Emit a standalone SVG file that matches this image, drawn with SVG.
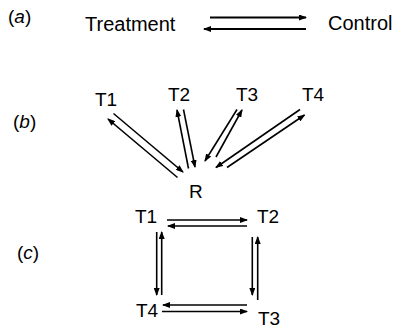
<svg xmlns="http://www.w3.org/2000/svg" width="396" height="329" viewBox="0 0 396 329">
  <defs>
    <marker id="ah" markerWidth="8" markerHeight="6" refX="7" refY="3" orient="auto" markerUnits="userSpaceOnUse">
      <path d="M0,0 L8,3 L0,6 Z" fill="#000"/>
    </marker>
    <style>
      text { font-family: "Liberation Sans", Arial, sans-serif; fill: #000; }
      .lbl { font-size: 19px; }
      .big { font-size: 20px; }
      .tag { font-size: 19px; }
      .tag tspan.it { font-style: italic; }
      .arr { stroke: #000; fill: none; marker-end: url(#ah); }
      .thick { stroke-width: 2; }
      .thin { stroke-width: 1.6; }
    </style>
  </defs>
  <rect width="396" height="329" fill="#fff"/>

  <!-- panel tags -->
  <g id="tags">
    <text class="tag" x="8" y="23">(<tspan class="it">a</tspan>)</text>
    <text class="tag" x="13" y="128">(<tspan class="it">b</tspan>)</text>
    <text class="tag" x="17" y="259">(<tspan class="it">c</tspan>)</text>
  </g>

  <!-- panel a nodes -->
  <g id="treatment"><text class="big" x="85" y="30.5">Treatment</text></g>
  <g id="control"><text class="big" x="328" y="29.5">Control</text></g>

  <!-- panel b nodes -->
  <g id="b-T1"><text class="lbl" x="95" y="105.5">T1</text></g>
  <g id="b-T2"><text class="lbl" x="168" y="101">T2</text></g>
  <g id="b-T3"><text class="lbl" x="236" y="101">T3</text></g>
  <g id="b-T4"><text class="lbl" x="302" y="101">T4</text></g>
  <g id="b-R"><text class="lbl" x="189" y="197.5">R</text></g>

  <!-- panel c nodes -->
  <g id="c-T1"><text class="lbl" x="135" y="223">T1</text></g>
  <g id="c-T2"><text class="lbl" x="257" y="223">T2</text></g>
  <g id="c-T3"><text class="lbl" x="258" y="325">T3</text></g>
  <g id="c-T4"><text class="lbl" x="136" y="316.5">T4</text></g>

  <g id="connectors">
    <!-- a -->
    <line class="arr thick" x1="210" y1="17.5" x2="306" y2="17.5"/>
    <line class="arr thick" x1="306" y1="29" x2="204" y2="29"/>

    <!-- b -->
    <line class="arr thin" x1="113.5" y1="113.5" x2="183" y2="172"/>
    <line class="arr thin" x1="177.5" y1="177.5" x2="108" y2="119"/>
    <line class="arr thin" x1="183.5" y1="109.5" x2="195" y2="167"/>
    <line class="arr thin" x1="188.5" y1="168.5" x2="177" y2="110"/>
    <line class="arr thin" x1="237" y1="109.5" x2="205" y2="161"/>
    <line class="arr thin" x1="216" y1="157" x2="242" y2="110"/>
    <line class="arr thin" x1="300" y1="109.5" x2="216" y2="167.5"/>
    <line class="arr thin" x1="227" y1="167.5" x2="304.5" y2="115"/>

    <!-- c -->
    <line class="arr thin" x1="167" y1="220" x2="247" y2="220"/>
    <line class="arr thin" x1="247" y1="226" x2="168" y2="226"/>
    <line class="arr thin" x1="156.7" y1="232" x2="156.7" y2="295"/>
    <line class="arr thin" x1="161.7" y1="295" x2="161.7" y2="232"/>
    <line class="arr thin" x1="252.3" y1="237" x2="252.3" y2="295"/>
    <line class="arr thin" x1="257.7" y1="300" x2="257.7" y2="237"/>
    <line class="arr thin" x1="247" y1="305" x2="163" y2="305"/>
    <line class="arr thin" x1="162" y1="311.5" x2="247" y2="311.5"/>
  </g>
</svg>
